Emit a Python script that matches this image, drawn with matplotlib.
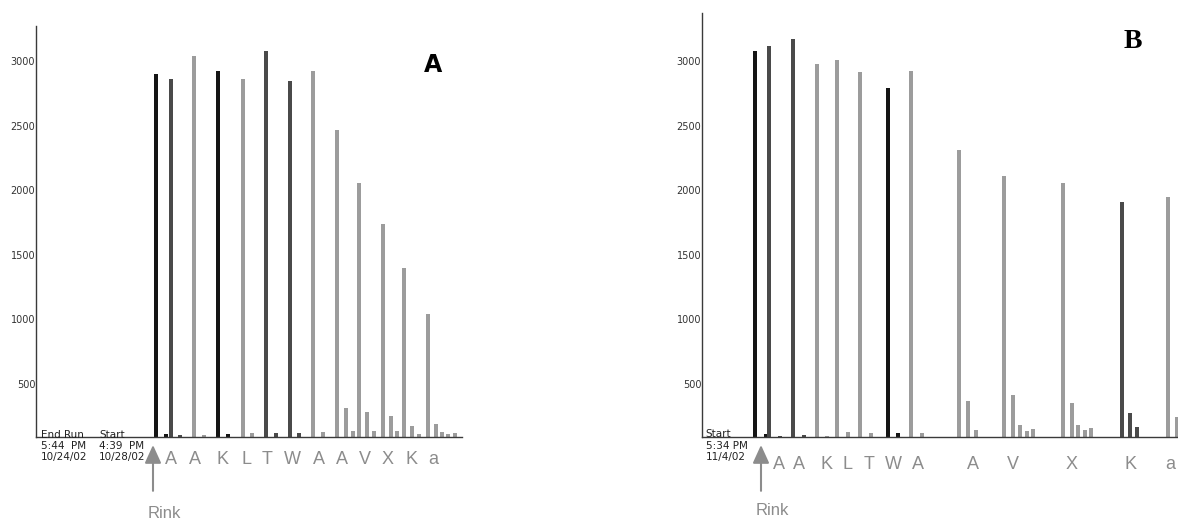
import matplotlib
matplotlib.use("Agg")
import matplotlib.pyplot as plt

# peak readout: time (arbitrary units from the start of the trace), height, trace type
# trace type 0 = Rink/first coupling, 1 = dark trace, 2 = light trace
a_time = [120, 130, 135, 144, 158, 168, 182, 192, 207, 216, 230, 240, 254, 263, 277, 287,
          301, 310, 317, 323, 331, 338, 347, 355, 361, 368, 376, 383,
          392, 400, 406, 412, 419]
a_height = [2900, 110, 2866, 105, 3039, 100, 2922, 112, 2866, 118, 3080, 118, 2848, 118, 2922, 128,
            2465, 315, 130, 2057, 278, 135, 1736, 252, 130, 1395, 170, 112,
            1039, 185, 122, 112, 118]
a_trace = [0, 0, 1, 1, 2, 2, 0, 0, 2, 2, 1, 1, 1, 1, 2, 2,
           2, 2, 2, 2, 2, 2, 2, 2, 2, 2, 2, 2,
           2, 2, 2, 2, 2]

b_time = [53, 64, 67, 78, 91, 102, 115, 125, 135, 146, 158, 169, 186, 196, 209, 220,
          257, 266, 274, 302, 311, 318, 325, 331, 361, 370, 376, 383, 389,
          420, 428, 435, 466, 475]
b_height = [3080, 110, 3116, 95, 3176, 105, 2977, 95, 3013, 125, 2917, 115, 2796, 120, 2925, 115,
            2311, 368, 138, 2112, 415, 183, 136, 151, 2054, 352, 177, 144, 154,
            1907, 275, 162, 1950, 243]
b_trace = [0, 0, 1, 1, 1, 1, 2, 2, 2, 2, 2, 2, 0, 0, 2, 2,
           2, 2, 2, 2, 2, 2, 2, 2, 2, 2, 2, 2, 2,
           1, 1, 1, 2, 2]

residues = ["A", "A", "K", "L", "T", "W", "A", "A", "V", "X", "K", "a"]
a_residue_time = [135, 159, 186, 210, 231, 256, 283, 306, 329, 352, 375, 397]
b_residue_time = [77, 97, 125, 146, 167, 191, 216, 271, 311, 370, 429, 468]
a_rink_time = 117
b_rink_time = 59

y_ticks = [500, 1000, 1500, 2000, 2500, 3000]

TRACE_COLORS = ["#151515", "#4a4a4a", "#9c9c9c"]
LABEL_GREY = "#8c8c8c"
W, H = 1178, 526
COORDS = ("data", "axes fraction")


def axes_rect(left_px, right_px, top_px, bottom_px):
    return [left_px / W, 1 - bottom_px / H, (right_px - left_px) / W, (bottom_px - top_px) / H]


def draw_panel(ax, times, heights, traces, xmax, ytop, res_times, label_dy):
    colors = [TRACE_COLORS[t] for t in traces]
    ax.bar(times, heights, width=3.4, color=colors, linewidth=0)
    ax.set_xlim(0, xmax)
    ax.set_ylim(87, ytop)

    for side in ("top", "right"):
        ax.spines[side].set_visible(False)
    for side in ("left", "bottom"):
        ax.spines[side].set_color("#3a3a3a")
        ax.spines[side].set_linewidth(1.0)

    ax.set_xticks([])
    ax.set_yticks(y_ticks)
    ax.set_yticklabels([str(v) for v in y_ticks], fontsize=7, color="#333333")
    ax.tick_params(axis="y", length=0, pad=0.5)

    for t, r in zip(res_times, residues):
        ax.annotate(r, xy=(t, 0), xycoords=COORDS, xytext=(0, label_dy),
                    textcoords="offset points", ha="center", va="center",
                    fontsize=13, color=LABEL_GREY, family="Liberation Sans")


def draw_rink(ax, rink_time, tip_frac, text_dy):
    # grey arrow pointing up at the resin (Rink) peak, tip just under the baseline
    ax.annotate("", xy=(rink_time, tip_frac), xycoords=COORDS, xytext=(0, -33),
                textcoords="offset points",
                arrowprops=dict(arrowstyle="-|>,head_length=1.1,head_width=0.5",
                                color=LABEL_GREY, lw=1.5, shrinkA=0, shrinkB=0),
                annotation_clip=False)
    ax.annotate("Rink", xy=(rink_time + 11, 0), xycoords=COORDS, xytext=(0, text_dy),
                textcoords="offset points", ha="center", va="center",
                fontsize=12, color=LABEL_GREY, family="Liberation Sans")


fig = plt.figure(figsize=(W / 100, H / 100), dpi=100)
fig.patch.set_facecolor("white")

ax_a = fig.add_axes(axes_rect(36, 462, 26, 437))
draw_panel(ax_a, a_time, a_height, a_trace, 426, 3273, a_residue_time, -16.5)
draw_rink(ax_a, a_rink_time, -8 / 411, -55)
ax_a.text(0.012, 0.018, "End Run\n5:44  PM\n10/24/02", transform=ax_a.transAxes,
          ha="left", va="top", fontsize=7.5, color="#222222", linespacing=1.15)
ax_a.text(0.148, 0.018, "Start\n4:39  PM\n10/28/02", transform=ax_a.transAxes,
          ha="left", va="top", fontsize=7.5, color="#222222", linespacing=1.15)
ax_a.text(0.932, 0.905, "A", transform=ax_a.transAxes, ha="center", va="center",
          fontsize=17, fontweight="bold", family="DejaVu Sans")

ax_b = fig.add_axes(axes_rect(702, 1178, 13, 437))
draw_panel(ax_b, b_time, b_height, b_trace, 476, 3374, b_residue_time, -20)
draw_rink(ax_b, b_rink_time, -8 / 424, -53)
ax_b.text(0.008, 0.018, "Start\n5:34 PM\n11/4/02", transform=ax_b.transAxes,
          ha="left", va="top", fontsize=7.5, color="#222222", linespacing=1.15)
ax_b.text(0.905, 0.932, "B", transform=ax_b.transAxes, ha="center", va="center",
          fontsize=20, fontweight="bold", family="Liberation Serif")

fig.savefig("out.png", dpi=100)
